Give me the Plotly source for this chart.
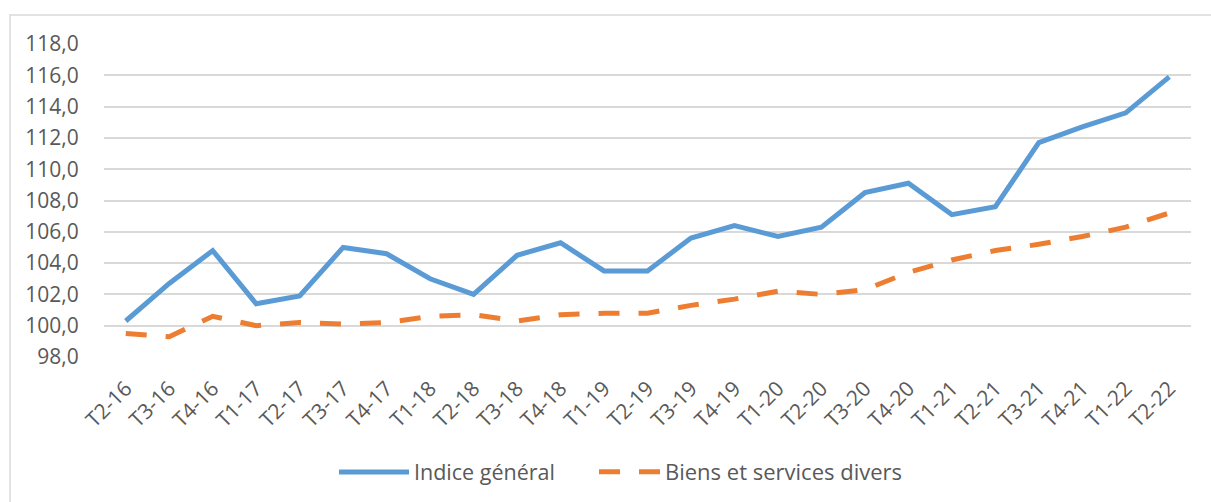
import plotly.graph_objects as go

categories = ["T2-16", "T3-16", "T4-16", "T1-17", "T2-17", "T3-17", "T4-17",
              "T1-18", "T2-18", "T3-18", "T4-18", "T1-19", "T2-19", "T3-19",
              "T4-19", "T1-20", "T2-20", "T3-20", "T4-20", "T1-21", "T2-21",
              "T3-21", "T4-21", "T1-22", "T2-22"]

indice_general = [100.3, 102.7, 104.8, 101.4, 101.9, 105.0, 104.6,
                  103.0, 102.0, 104.5, 105.3, 103.5, 103.5, 105.6,
                  106.4, 105.7, 106.3, 108.5, 109.1, 107.1, 107.6,
                  111.7, 112.7, 113.6, 115.9]

biens_services = [99.5, 99.3, 100.6, 100.0, 100.2, 100.1, 100.2,
                  100.6, 100.7, 100.3, 100.7, 100.8, 100.8, 101.3,
                  101.7, 102.2, 102.0, 102.3, 103.4, 104.2, 104.8,
                  105.2, 105.7, 106.3, 107.2]

y_ticks = [98, 100, 102, 104, 106, 108, 110, 112, 114, 116, 118]
y_tick_labels = ["98,0", "100,0", "102,0", "104,0", "106,0", "108,0",
                 "110,0", "112,0", "114,0", "116,0", "118,0"]

font_family = "Open Sans, Liberation Sans, sans-serif"
text_color = "#595959"

L, R, T, B = 104, 20, 44, 145
W, H = 1211, 502
pw, ph = W - L - R, H - T - B

fig = go.Figure()
fig.add_trace(go.Scatter(
    x=categories, y=indice_general, mode="lines", name="Indice général",
    line=dict(color="#5B9BD5", width=5), legend="legend",
))
fig.add_trace(go.Scatter(
    x=categories, y=biens_services, mode="lines", name="Biens et services divers",
    line=dict(color="#ED7D31", width=5, dash="21px,19px"), legend="legend2",
))

legend_common = dict(orientation="h", xanchor="left", yanchor="middle",
                     y=(H - B - 472) / ph, bgcolor="rgba(0,0,0,0)")

fig.update_layout(
    width=W, height=H,
    margin=dict(l=L, r=R, t=T, b=B, autoexpand=False),
    paper_bgcolor="white", plot_bgcolor="white",
    font=dict(family=font_family, size=21, color=text_color),
    showlegend=True,
    legend=dict(x=(334 - L) / pw, itemwidth=70,
                font=dict(size=21.5, color=text_color), **legend_common),
    legend2=dict(x=(594 - L) / pw, itemwidth=61,
                 font=dict(size=22, color=text_color), **legend_common),
    shapes=[dict(type="rect", xref="paper", yref="paper",
                 x0=(10 - L) / pw, x1=1.05, y0=-0.7, y1=1 + (T - 15) / ph,
                 line=dict(color="#D9D9D9", width=1.5), fillcolor="rgba(0,0,0,0)",
                 layer="below")],
)

fig.update_xaxes(
    type="category", tickangle=-45, showgrid=False, showline=False, zeroline=False,
    ticks="outside", ticklen=10, tickcolor="rgba(0,0,0,0)", automargin=False,
    tickfont=dict(size=21, color=text_color),
    range=[-0.5, len(categories) - 0.5],
)
fig.update_yaxes(
    range=[98, 118], tickvals=y_ticks, ticktext=y_tick_labels,
    showgrid=True, gridcolor="#D9D9D9", gridwidth=1.5, zeroline=False, showline=False,
    ticks="outside", ticklen=20, tickcolor="rgba(0,0,0,0)", automargin=False,
    tickfont=dict(size=21, color=text_color),
)

fig.write_html("out.html",
               config={"displayModeBar": False},
               post_script="document.body.style.margin='0';document.body.style.overflow='hidden';")
